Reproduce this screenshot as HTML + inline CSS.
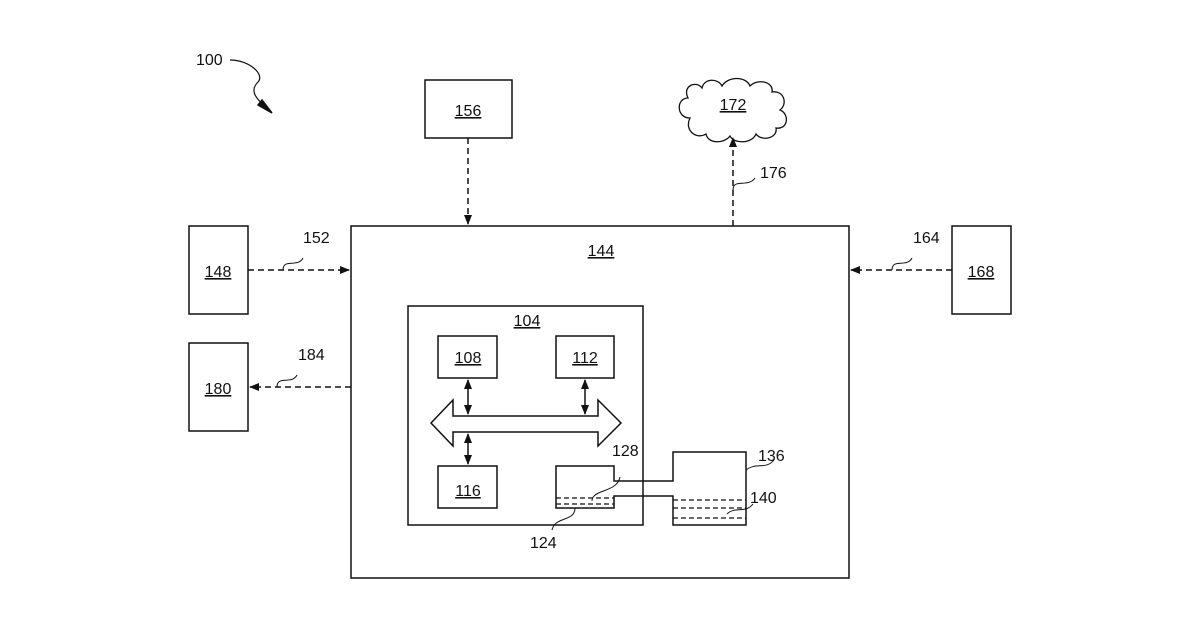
<!DOCTYPE html>
<html><head><style>body{margin:0;background:#fff}svg{display:block}text{font-family:"Liberation Sans",sans-serif;font-size:16px;fill:#111}</style></head><body>
<svg width="1200" height="630" viewBox="0 0 1200 630" xmlns="http://www.w3.org/2000/svg">
<defs><marker id="a" markerWidth="10" markerHeight="10" refX="9" refY="5" orient="auto" markerUnits="userSpaceOnUse"><path d="M0,1 L10,5 L0,9 Z" fill="#111"/></marker>
<marker id="b" markerWidth="10" markerHeight="10" refX="1" refY="5" orient="auto" markerUnits="userSpaceOnUse"><path d="M10,1 L0,5 L10,9 Z" fill="#111"/></marker></defs>
<g fill="none" stroke="#111" stroke-width="1.5">
<rect x="351" y="226" width="498" height="352"/>
<rect x="425" y="80" width="87" height="58"/>
<rect x="189" y="226" width="59" height="88"/>
<rect x="189" y="343" width="59" height="88"/>
<rect x="952" y="226" width="59" height="88"/>
<rect x="408" y="306" width="235" height="219"/>
<rect x="438" y="336" width="59" height="42"/>
<rect x="556" y="336" width="58" height="42"/>
<rect x="438" y="466" width="59" height="42"/>
<path d="M556,466 H614 V481 H673 V452 H746 V525 H673 V496 H614 V508 H556 Z"/>
<path d="M431,423 L453,400 V416 H598 V400 L621,423 L598,446 V432 H453 V446 Z"/>
</g>
<g stroke="#111" stroke-width="1.2" stroke-dasharray="5,3" fill="none">
<line x1="556" y1="498" x2="614" y2="498"/><line x1="556" y1="504" x2="614" y2="504"/>
<line x1="673" y1="500" x2="746" y2="500"/><line x1="673" y1="508" x2="746" y2="508"/><line x1="673" y1="518" x2="746" y2="518"/>
</g>
<g stroke="#111" stroke-width="1.5" stroke-dasharray="6,4" fill="none">
<line x1="468" y1="138" x2="468" y2="224" marker-end="url(#a)"/>
<line x1="733" y1="226" x2="733" y2="138" marker-end="url(#a)"/>
<line x1="248" y1="270" x2="349" y2="270" marker-end="url(#a)"/>
<line x1="952" y1="270" x2="851" y2="270" marker-end="url(#a)"/>
<line x1="351" y1="387" x2="250" y2="387" marker-end="url(#a)"/>
</g>
<g stroke="#111" stroke-width="1.5" fill="none">
<line x1="468" y1="380" x2="468" y2="414" marker-start="url(#b)" marker-end="url(#a)"/>
<line x1="585" y1="380" x2="585" y2="414" marker-start="url(#b)" marker-end="url(#a)"/>
<line x1="468" y1="434" x2="468" y2="464" marker-start="url(#b)" marker-end="url(#a)"/>
<path d="M690,118 c-14,0 -14,-20 -2,-20 c-6,-12 8,-18 14,-10 c2,-10 16,-10 20,-2 c6,-10 24,-10 28,0 c8,-8 24,-4 22,6 c12,-2 16,12 8,18 c10,4 8,20 -4,18 c2,10 -14,14 -20,6 c-4,10 -22,10 -26,2 c-6,8 -22,8 -24,-2 c-10,6 -22,-4 -16,-16 z" stroke-width="1.3"/>
<path d="M230,60 c20,0 35,15 28,22 c-10,10 0,18 12,30" stroke-width="1.2"/>
<path d="M258,105 L272,113 L262,100 Z" fill="#111"/>
<path d="M283,270 c0,-12 15,-2 20,-12" stroke-width="1"/>
<path d="M892,270 c0,-12 15,-2 20,-12" stroke-width="1"/>
<path d="M277,387 c0,-12 15,-2 20,-12" stroke-width="1"/>
<path d="M733,190 c0,-12 15,-2 22,-12" stroke-width="1"/>
<path d="M746,470 c10,-8 20,0 28,-10" stroke-width="1"/>
<path d="M727,514 c8,-8 18,0 26,-10" stroke-width="1"/>
<path d="M592,501 c0,-12 25,-8 28,-24" stroke-width="1"/>
<path d="M575,508 c0,14 -20,8 -23,22" stroke-width="1"/>
</g>
<g text-anchor="middle">
<text x="468" y="116" text-decoration="underline">156</text>
<text x="218" y="277" text-decoration="underline">148</text>
<text x="218" y="394" text-decoration="underline">180</text>
<text x="981" y="277" text-decoration="underline">168</text>
<text x="601" y="256" text-decoration="underline">144</text>
<text x="527" y="326" text-decoration="underline">104</text>
<text x="468" y="363" text-decoration="underline">108</text>
<text x="585" y="363" text-decoration="underline">112</text>
<text x="468" y="496" text-decoration="underline">116</text>
<text x="733" y="110" text-decoration="underline">172</text>
</g>
<g>
<text x="196" y="65">100</text>
<text x="303" y="243">152</text>
<text x="913" y="243">164</text>
<text x="298" y="360">184</text>
<text x="760" y="178">176</text>
<text x="758" y="461">136</text>
<text x="750" y="503">140</text>
<text x="612" y="456">128</text>
<text x="530" y="548">124</text>
</g>
</svg></body></html>
